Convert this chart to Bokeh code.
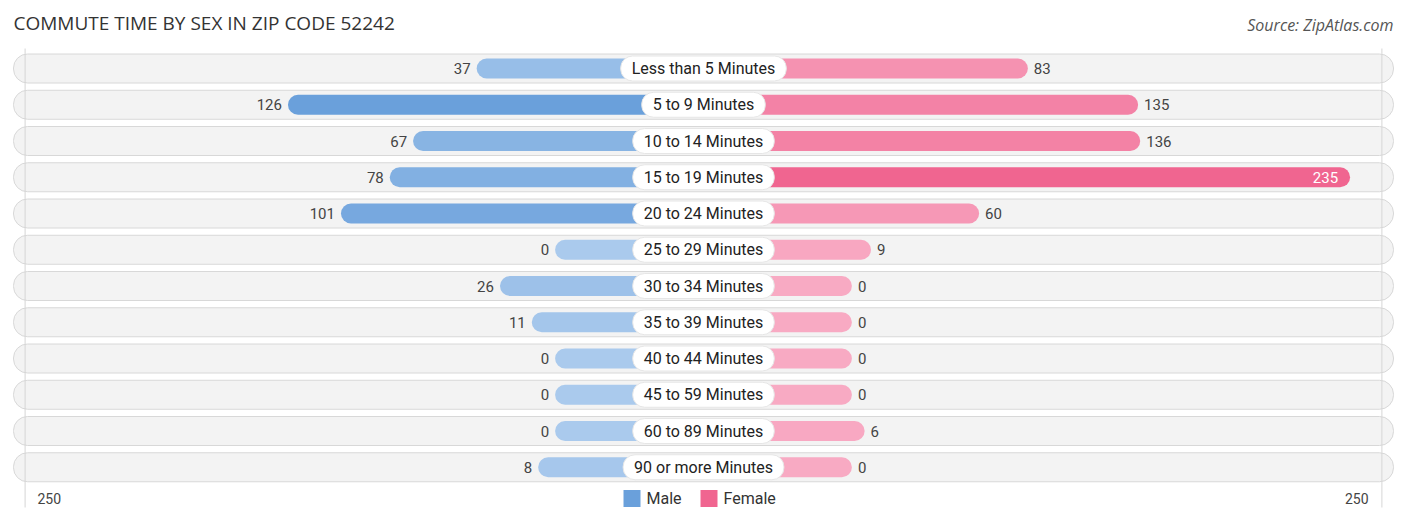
from bokeh.plotting import figure
from bokeh.models import Range1d, ColumnDataSource
from bokeh.core.properties import value
from bokeh.embed import file_html
from bokeh.resources import INLINE

categories = ["Less than 5 Minutes", "5 to 9 Minutes", "10 to 14 Minutes",
              "15 to 19 Minutes", "20 to 24 Minutes", "25 to 29 Minutes",
              "30 to 34 Minutes", "35 to 39 Minutes", "40 to 44 Minutes",
              "45 to 59 Minutes", "60 to 89 Minutes", "90 or more Minutes"]
male = [37, 126, 67, 78, 101, 0, 26, 11, 0, 0, 0, 8]
female = [83, 135, 136, 235, 60, 9, 0, 0, 0, 0, 6, 0]
axis_max = 250

W, H = 1406, 523
PX = 2.12      # pixels per unit
ROW = 36.25    # pixels per row
OFF = 70       # minimum bar stub (units), partly hidden under the label
Y0 = 68        # pixel row of the first category


def mix(c1, c2, t):
    a = [int(c1[i:i + 2], 16) for i in (1, 3, 5)]
    b = [int(c2[i:i + 2], 16) for i in (1, 3, 5)]
    return "#" + "".join("%02x" % round(a[k] + (b[k] - a[k]) * t) for k in range(3))


def sy(py):
    return -(py - Y0) / ROW


def sx(px):
    return (px - W / 2) / PX


n = len(categories)
ys = [-i for i in range(n)]
mmax = max(male)
fmax = max(female)
male_col = [mix("#aacaed", "#6aa0db", v / mmax) for v in male]
female_col = [mix("#f8aac3", "#f06590", v / fmax) for v in female]

p = figure(width=W, height=H, output_backend="svg", toolbar_location=None,
           x_range=Range1d(sx(0), sx(W)), y_range=Range1d(sy(H), sy(0)),
           min_border=0)
p.axis.visible = False
p.grid.visible = False
p.outline_line_color = None
p.background_fill_color = "white"
p.border_fill_color = "white"

# row backgrounds
p.hbar(y=ys, left=sx(13), right=sx(1393), height=29 / ROW,
       fill_color="#f3f3f3", line_color="#d8d8d8", line_width=1, border_radius=14)

# reference lines at +/- 250
lim = OFF + axis_max
p.segment(x0=[-lim, lim], y0=[sy(48)] * 2, x1=[-lim, lim], y1=[sy(507)] * 2,
          line_color="#d6d6d6", line_width=1)

src = ColumnDataSource(dict(
    y=ys, cat=categories,
    ml=[-(OFF + v) for v in male], fr=[OFF + v for v in female],
    mc=male_col, fc=female_col,
))
p.hbar(y="y", left="ml", right=0, height=20 / ROW, source=src,
       fill_color="mc", line_color=None, border_radius=10)
p.hbar(y="y", left=0, right="fr", height=20 / ROW, source=src,
       fill_color="fc", line_color=None, border_radius=10)

# value labels
p.text(x=[-(OFF + v) - 6 / PX for v in male], y=ys, text=[str(v) for v in male],
       text_align="right", text_baseline="middle", text_font=value("Roboto"),
       text_font_size="15px", text_color="#444444")
out_f = [v for v in female if v <= 200]
out_y = [-i for i, v in enumerate(female) if v <= 200]
p.text(x=[OFF + v + 6 / PX for v in out_f], y=out_y, text=[str(v) for v in out_f],
       text_align="left", text_baseline="middle", text_font=value("Roboto"),
       text_font_size="15px", text_color="#444444")
in_f = [v for v in female if v > 200]
in_y = [-i for i, v in enumerate(female) if v > 200]
p.text(x=[OFF + v - 12 / PX for v in in_f], y=in_y, text=[str(v) for v in in_f],
       text_align="right", text_baseline="middle", text_font=value("Roboto"),
       text_font_size="15px", text_color="white")

# category labels in white pills
p.text(x=0, y="y", text="cat", source=src, text_align="center", text_baseline="middle",
       text_font=value("Roboto"), text_font_size="16px", text_color="#222222",
       background_fill_color="white", border_line_color="#e6e6e6",
       padding=dict(left=11, right=11, top=3, bottom=3), border_radius=12)

# title and source
p.text(x=[sx(13)], y=[sy(22)], text=["COMMUTE TIME BY SEX IN ZIP CODE 52242"],
       text_align="left", text_baseline="middle", text_font=value("Open Sans"),
       text_font_size="19px", text_color="#333333")
p.text(x=[sx(1393)], y=[sy(24)], text=["Source: ZipAtlas.com"],
       text_align="right", text_baseline="middle", text_font=value("Open Sans"),
       text_font_size="16px", text_font_style="italic", text_color="#555555")

# axis end labels
p.text(x=[sx(37), sx(1368)], y=[sy(498)] * 2, text=[str(axis_max)] * 2,
       text_align=["left", "right"], text_baseline="middle", text_font=value("Roboto"),
       text_font_size="14px", text_color="#444444")

# legend
p.rect(x=[sx(631.5), sx(708.5)], y=[sy(498)] * 2, width=17, height=17,
       width_units="screen", height_units="screen",
       fill_color=["#6aa0db", "#f06590"], line_color=None)
p.text(x=[sx(646), sx(723)], y=[sy(498)] * 2, text=["Male", "Female"],
       text_align="left", text_baseline="middle", text_font=value("Roboto"),
       text_font_size="16px", text_color="#333333")

open("out.html", "w").write(file_html(p, INLINE))
